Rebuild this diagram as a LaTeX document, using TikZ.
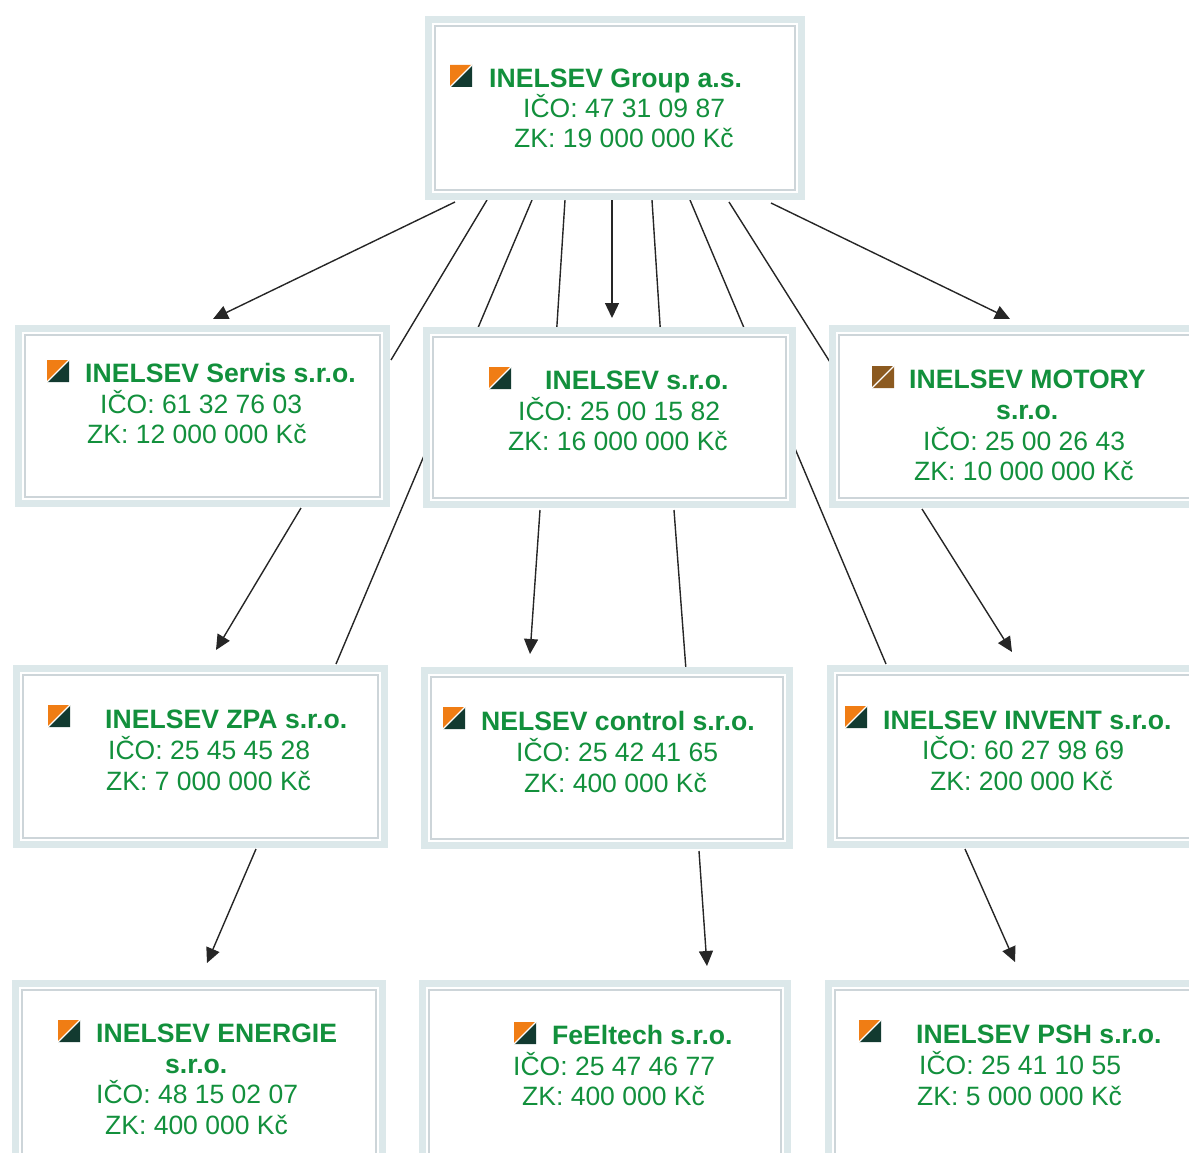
\documentclass[tikz,border=0pt]{standalone}
\usepackage{fontspec}
\setmainfont{Liberation Sans}
\usetikzlibrary{arrows.meta}
\definecolor{txtgreen}{HTML}{12903C}
\definecolor{band}{HTML}{DCE8EA}
\definecolor{thinline}{HTML}{CDD5D9}
\definecolor{logoorange}{HTML}{F07D14}
\definecolor{logodark}{HTML}{123A30}
\definecolor{logobrown}{HTML}{8C5A20}
\pgfdeclarelayer{bg}
\pgfsetlayers{bg,main}
\tikzset{
  orgboxstyle/.style={draw=band,fill=white,line width=7pt,inner sep=0pt,outer sep=0pt},
  innerline/.style={draw=thinline,line width=1.3pt},
  conn/.style={draw=black!85,line width=1.4pt},
  arrowconn/.style={conn,-{Triangle[length=15pt,width=14pt]}},
  titletext/.style={anchor=base west,inner sep=0pt,text=txtgreen,font=\fontsize{26.6}{28}\selectfont\bfseries},
  bodytext/.style={anchor=base west,inner sep=0pt,text=txtgreen,font=\fontsize{26.5}{28}\selectfont},
}
% name, x0, y0, x1, y1
\newcommand\orgbox[5]{%
  \node[orgboxstyle,minimum width={(#4-#2-7)*1pt},minimum height={(#5-#3-7)*1pt}] (#1) at ({(#2+#4)/2},{(#3+#5)/2}) {};
  \draw[innerline] ({#2+10},{#3+10}) rectangle ({#4-10},{#5-10});
}
% x, y, colour1, colour2
\newcommand\orglogo[4]{%
  \fill[#3] (#1,#2) -- ++(22,0) -- ++(-22,22) -- cycle;
  \fill[#4] ({#1+22},#2) -- ++(0,22) -- ++(-22,0) -- cycle;
  \draw[white,line width=1.2pt] ({#1+22},#2) -- (#1,{#2+22});
}
\newcommand\ttl[4]{\node[titletext] (#1) at (#2,{#3+0.5}) {#4};}
\newcommand\bdy[4]{\node[bodytext] (#1) at (#2,#3) {#4};}
\begin{document}
\begin{tikzpicture}[x=1pt,y=-1pt]
\useasboundingbox (0,0) rectangle (1189,1153);
% boxes
\orgbox{top}{425}{16}{805}{200}
\orgbox{servis}{15}{325}{390}{507}
\orgbox{center}{423}{327}{796}{508}
\orgbox{motory}{829}{325}{1200}{508}
\orgbox{zpa}{13}{665}{388}{848}
\orgbox{control}{421}{667}{793}{849}
\orgbox{invent}{827}{665}{1200}{848}
\orgbox{energie}{12}{980}{386}{1170}
\orgbox{feeltech}{419}{980}{791}{1170}
\orgbox{psh}{825}{980}{1200}{1170}
% logos
\orglogo{450}{65}{logoorange}{logodark}
\orglogo{47}{360}{logoorange}{logodark}
\orglogo{489}{367}{logoorange}{logodark}
\orglogo{872}{366}{logobrown}{logobrown}
\orglogo{48}{705}{logoorange}{logodark}
\orglogo{443}{707}{logoorange}{logodark}
\orglogo{845}{706}{logoorange}{logodark}
\orglogo{58}{1020}{logoorange}{logodark}
\orglogo{514}{1022}{logoorange}{logodark}
\orglogo{859}{1020}{logoorange}{logodark}
% texts
\ttl{t1}{489}{87}{INELSEV Group a.s.}
\bdy{t2}{523}{118}{IČO: 47 31 09 87}
\bdy{t3}{514}{148}{ZK: 19 000 000 Kč}
\ttl{s1}{85}{382}{INELSEV Servis s.r.o.}
\bdy{s2}{100}{413}{IČO: 61 32 76 03}
\bdy{s3}{87}{443}{ZK: 12 000 000 Kč}
\ttl{c1}{545}{389}{INELSEV s.r.o.}
\bdy{c2}{518}{420}{IČO: 25 00 15 82}
\bdy{c3}{508}{450}{ZK: 16 000 000 Kč}
\ttl{m1}{909}{388}{INELSEV MOTORY}
\ttl{m2}{996}{419}{s.r.o.}
\bdy{m3}{923}{450}{IČO: 25 00 26 43}
\bdy{m4}{914}{480}{ZK: 10 000 000 Kč}
\ttl{z1}{105}{728}{INELSEV ZPA s.r.o.}
\bdy{z2}{108}{759}{IČO: 25 45 45 28}
\bdy{z3}{106}{790}{ZK: 7 000 000 Kč}
\ttl{n1}{481}{730}{NELSEV control s.r.o.}
\bdy{n2}{516}{761}{IČO: 25 42 41 65}
\bdy{n3}{524}{792}{ZK: 400 000 Kč}
\ttl{i1}{883}{729}{INELSEV INVENT s.r.o.}
\bdy{i2}{922}{759}{IČO: 60 27 98 69}
\bdy{i3}{930}{790}{ZK: 200 000 Kč}
\ttl{e1}{96}{1042}{INELSEV ENERGIE}
\ttl{e2}{165}{1073}{s.r.o.}
\bdy{e3}{96}{1103}{IČO: 48 15 02 07}
\bdy{e4}{105}{1134}{ZK: 400 000 Kč}
\ttl{f1}{552}{1044}{FeEltech s.r.o.}
\bdy{f2}{513}{1075}{IČO: 25 47 46 77}
\bdy{f3}{522}{1105}{ZK: 400 000 Kč}
\ttl{p1}{916}{1043}{INELSEV PSH s.r.o.}
\bdy{p2}{919}{1074}{IČO: 25 41 10 55}
\bdy{p3}{917}{1105}{ZK: 5 000 000 Kč}
% connector ends
\coordinate (a1) at (455,202); \coordinate (a1e) at (213,319);
\coordinate (a2) at (487,200); \coordinate (a2e) at (391,360);
\coordinate (a3) at (532,200); \coordinate (a3e) at (336,664);
\coordinate (a4) at (565,200); \coordinate (a4e) at (556,340);
\coordinate (a5) at (612,198); \coordinate (a5e) at (612,318);
\coordinate (a6) at (652,200); \coordinate (a6e) at (661,340);
\coordinate (a7) at (690,200); \coordinate (a7e) at (886,664);
\coordinate (a8) at (729,202); \coordinate (a8e) at (835,370);
\coordinate (a9) at (771,203); \coordinate (a9e) at (1010,319);
\coordinate (b1) at (301,508); \coordinate (b1e) at (216,650);
\coordinate (b2) at (540,510); \coordinate (b2e) at (530,654);
\coordinate (b3) at (674,510); \coordinate (b3e) at (686,670);
\coordinate (b4) at (922,509); \coordinate (b4e) at (1012,652);
\coordinate (d1) at (256,849); \coordinate (d1e) at (207,963);
\coordinate (d2) at (699,851); \coordinate (d2e) at (707,966);
\coordinate (d3) at (965,849); \coordinate (d3e) at (1015,962);
\begin{pgfonlayer}{bg}
\draw[arrowconn] (a1) -- (a1e);
\draw[conn] (a2) -- (a2e);
\draw[conn] (a3) -- (a3e);
\draw[conn] (a4) -- (a4e);
\draw[arrowconn] (a5) -- (a5e);
\draw[conn] (a6) -- (a6e);
\draw[conn] (a7) -- (a7e);
\draw[conn] (a8) -- (a8e);
\draw[arrowconn] (a9) -- (a9e);
\draw[arrowconn] (b1) -- (b1e);
\draw[arrowconn] (b2) -- (b2e);
\draw[conn] (b3) -- (b3e);
\draw[arrowconn] (b4) -- (b4e);
\draw[arrowconn] (d1) -- (d1e);
\draw[arrowconn] (d2) -- (d2e);
\draw[arrowconn] (d3) -- (d3e);
\end{pgfonlayer}
\end{tikzpicture}
\end{document}
